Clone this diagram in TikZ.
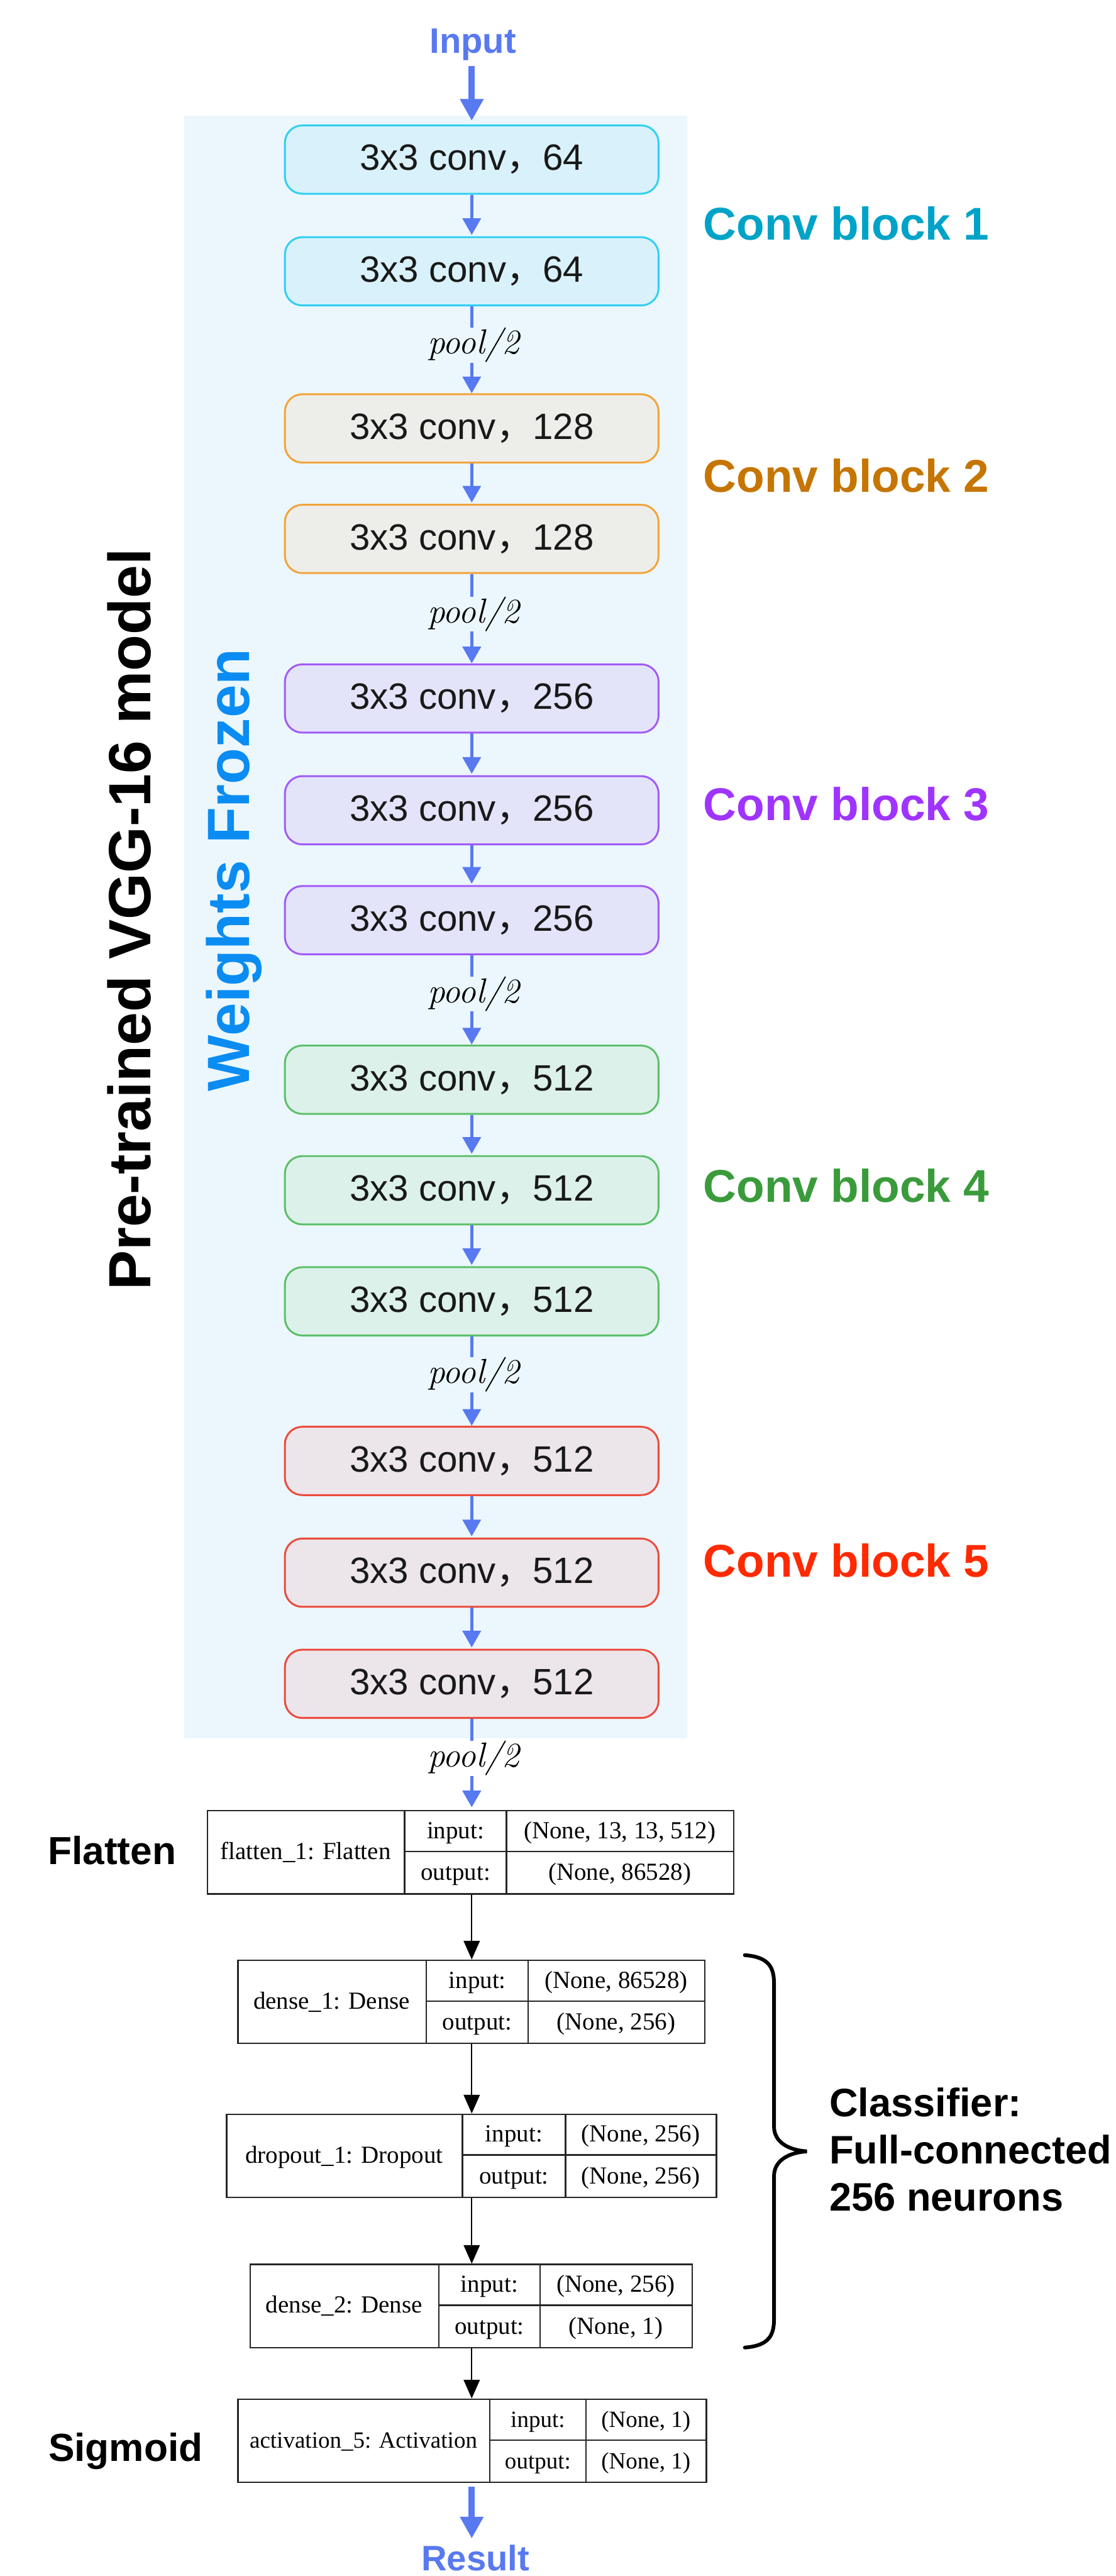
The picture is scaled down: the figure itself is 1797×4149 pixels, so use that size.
\documentclass[tikz,border=0pt]{standalone}
\usepackage{fontspec}
\usetikzlibrary{arrows.meta}
\newfontfamily\arialf{Liberation Sans}
\newfontfamily\timesf{Liberation Serif}
\newfontfamily\cjkf{Noto Sans CJK SC}
\definecolor{bgblue}{HTML}{EBF7FC}
\definecolor{arrowblue}{HTML}{5879F0}
\definecolor{bAfill}{HTML}{D9F1FA}\definecolor{bAdraw}{HTML}{30CFF2}
\definecolor{bBfill}{HTML}{EDEEE9}\definecolor{bBdraw}{HTML}{F2A33A}
\definecolor{bCfill}{HTML}{E3E3FA}\definecolor{bCdraw}{HTML}{A25AF5}
\definecolor{bDfill}{HTML}{DDF1EB}\definecolor{bDdraw}{HTML}{5CBF68}
\definecolor{bEfill}{HTML}{ECE5EA}\definecolor{bEdraw}{HTML}{EC4A3C}
\definecolor{lA}{HTML}{00A3C8}
\definecolor{lB}{HTML}{C57500}
\definecolor{lC}{HTML}{A034FF}
\definecolor{lD}{HTML}{3A9B3B}
\definecolor{lE}{HTML}{FF2A00}
\definecolor{wfblue}{HTML}{0A8CF2}
\def\tabfs{39.5}
\tikzset{
  convbox/.style={draw, rounded corners=28pt, line width=3pt, minimum width=602pt,
    minimum height=110pt, inner sep=0pt, text=black!90,
    font={\arialf\fontsize{59}{66}\selectfont}},
  blkA/.style={convbox, fill=bAfill, draw=bAdraw},
  blkB/.style={convbox, fill=bBfill, draw=bBdraw},
  blkC/.style={convbox, fill=bCfill, draw=bCdraw},
  blkD/.style={convbox, fill=bDfill, draw=bDdraw},
  blkE/.style={convbox, fill=bEfill, draw=bEdraw},
  blab/.style={anchor=base west, inner sep=0pt, font={\arialf\bfseries\fontsize{74}{80}\selectfont}},
  poollab/.style={anchor=base, inner sep=0pt, font={\itshape\fontsize{56}{60}\selectfont}},
  barrow/.style={draw=arrowblue, line width=5.5pt, -{Triangle[length=27pt,width=29pt]}},
  bline/.style={draw=arrowblue, line width=5.5pt},
  bigarrow/.style={draw=arrowblue, line width=10pt, -{Triangle[length=35pt,width=36pt]}},
  karrow/.style={draw=black, line width=2pt, -{Triangle[length=30pt,width=26pt]}},
  tbl/.style={draw=black!85, line width=2.5pt, inner sep=0pt},
  tline/.style={draw=black!85, line width=2.5pt},
  ttext/.style={inner sep=0pt, text height=26pt, text depth=1pt,
    font={\timesf\fontsize{\tabfs}{\tabfs}\selectfont}},
  sidelab/.style={anchor=base west, inner sep=0pt, font={\arialf\bfseries\fontsize{63}{70}\selectfont}},
  vertlab/.style={rotate=90, anchor=base, inner sep=0pt, font={\arialf\bfseries\fontsize{96}{100}\selectfont}},
}
\newcommand\convtxt[1]{3x3 conv{\cjkf ，}#1}
\newcommand\kerastab[9]{%
  \node[tbl, minimum width={#5-#2}, minimum height=134pt, anchor=north west] (#1) at (#2,#6-67) {};
  \draw[tline] (#3,#6-67) -- (#3,#6+67) (#4,#6-67) -- (#4,#6+67) (#3,#6) -- (#5,#6);
  \node[ttext] (#1-name) at ({(#2+#3)/2},#6) {#7};
  \node[ttext] (#1-inl) at ({(#3+#4)/2},#6-33.5) {input:};
  \node[ttext] (#1-outl) at ({(#3+#4)/2},#6+33.5) {output:};
  \node[ttext] (#1-inv) at ({(#4+#5)/2},#6-33.5) {#8};
  \node[ttext] (#1-outv) at ({(#4+#5)/2},#6+33.5) {#9};
}
\begin{document}
\begin{tikzpicture}[x=1pt,y=-1pt]
\useasboundingbox[fill=white] (0,0) rectangle (1797,4149);
\coordinate (col) at (760,0);
% frozen background
\fill[bgblue] (297,186) rectangle (1107,2800);
% side texts
\node[vertlab] (pretrained) at (243,1481) {Pre-trained VGG-16 model};
\node[vertlab, text=wfblue] (frozen) at (402,1401) {Weights Frozen};
% input
\node[anchor=base, inner sep=0pt, text=arrowblue, font={\arialf\bfseries\fontsize{57}{60}\selectfont}] (input) at (762,86) {Input};
% conv boxes
\node[blkA] (c1) at (760,257) {\convtxt{64}};
\node[blkA] (c2) at (760,437) {\convtxt{64}};
\node[blkB] (c3) at (760,690) {\convtxt{128}};
\node[blkB] (c4) at (760,868) {\convtxt{128}};
\node[blkC] (c5) at (760,1125) {\convtxt{256}};
\node[blkC] (c6) at (760,1305) {\convtxt{256}};
\node[blkC] (c7) at (760,1482) {\convtxt{256}};
\node[blkD] (c8) at (760,1739) {\convtxt{512}};
\node[blkD] (c9) at (760,1917) {\convtxt{512}};
\node[blkD] (c10) at (760,2096) {\convtxt{512}};
\node[blkE] (c11) at (760,2353) {\convtxt{512}};
\node[blkE] (c12) at (760,2533) {\convtxt{512}};
\node[blkE] (c13) at (760,2712) {\convtxt{512}};
% pool labels
\node[poollab] (p1) at (763,570) {pool/2};
\node[poollab] (p2) at (763,1003) {pool/2};
\node[poollab] (p3) at (763,1615) {pool/2};
\node[poollab] (p4) at (763,2228) {pool/2};
\node[poollab] (p5) at (763,2846) {pool/2};
% block labels
\node[blab, text=lA] (lab1) at (1133,386) {Conv block 1};
\node[blab, text=lB] (lab2) at (1133,793) {Conv block 2};
\node[blab, text=lC] (lab3) at (1133,1321) {Conv block 3};
\node[blab, text=lD] (lab4) at (1133,1936) {Conv block 4};
\node[blab, text=lE] (lab5) at (1133,2540) {Conv block 5};
% arrows in the conv column
\draw[bigarrow, shorten <=8pt, shorten >=6pt] (input.south -| col) -- (c1.north -| col);
\draw[barrow, shorten >=2pt] (c1.south) -- (c2.north);
\draw[bline] (c2.south) -- (p1.north -| col);
\draw[barrow] (p1.south -| col) -- (c3.north);
\draw[barrow, shorten >=2pt] (c3.south) -- (c4.north);
\draw[bline] (c4.south) -- (p2.north -| col);
\draw[barrow] (p2.south -| col) -- (c5.north);
\draw[barrow, shorten >=2pt] (c5.south) -- (c6.north);
\draw[barrow, shorten >=2pt] (c6.south) -- (c7.north);
\draw[bline] (c7.south) -- (p3.north -| col);
\draw[barrow] (p3.south -| col) -- (c8.north);
\draw[barrow, shorten >=2pt] (c8.south) -- (c9.north);
\draw[barrow, shorten >=2pt] (c9.south) -- (c10.north);
\draw[bline] (c10.south) -- (p4.north -| col);
\draw[barrow] (p4.south -| col) -- (c11.north);
\draw[barrow, shorten >=2pt] (c11.south) -- (c12.north);
\draw[barrow, shorten >=2pt] (c12.south) -- (c13.north);
\draw[bline] (c13.south) -- (p5.north -| col);
% keras tables
\kerastab{flat}{333}{652}{816}{1181}{2982}{flatten\_1: Flatten}{(None, 13, 13, 512)}{(None, 86528)}
\kerastab{dA}{382}{687}{851}{1134}{3223}{dense\_1: Dense}{(None, 86528)}{(None, 256)}
\kerastab{drop}{364}{745}{911}{1153}{3471}{dropout\_1: Dropout}{(None, 256)}{(None, 256)}
\kerastab{dB}{402}{707}{870}{1114}{3713}{dense\_2: Dense}{(None, 256)}{(None, 1)}
\def\tabfs{37.5}
\kerastab{act}{382}{789}{944}{1137}{3930}{activation\_5: Activation}{(None, 1)}{(None, 1)}
\draw[barrow, shorten >=4pt] (p5.south -| col) -- (flat.north -| col);
\draw[karrow] (flat.south -| col) -- (dA.north -| col);
\draw[karrow] (dA.south -| col) -- (drop.north -| col);
\draw[karrow] (drop.south -| col) -- (dB.north -| col);
\draw[karrow] (dB.south -| col) -- (act.north -| col);
% side labels
\node[sidelab] (flatlab) at (77,3003) {Flatten};
\node[sidelab] (siglab) at (78,3964) {Sigmoid};
% brace and classifier
\draw[line width=6pt, line cap=round] (1200,3149) .. controls (1240,3152) and (1247,3170) .. (1247,3195)
  -- (1247,3425) .. controls (1247,3450) and (1270,3463) .. (1300,3465)
  .. controls (1270,3467) and (1247,3480) .. (1247,3505)
  -- (1247,3735) .. controls (1247,3760) and (1240,3778) .. (1200,3781);
\node[anchor=west, inner sep=0pt, align=left, font={\arialf\bfseries\fontsize{64}{76}\selectfont}] (clf) at (1336,3462) {Classifier:\\Full-connected\\256 neurons};
% result
\node[anchor=base, inner sep=0pt, text=arrowblue, font={\arialf\bfseries\fontsize{57}{60}\selectfont}] (result) at (766,4140) {Result};
\draw[bigarrow, shorten <=6pt, shorten >=10pt] (act.south -| col) -- (result.north -| col);
\end{tikzpicture}
\end{document}
